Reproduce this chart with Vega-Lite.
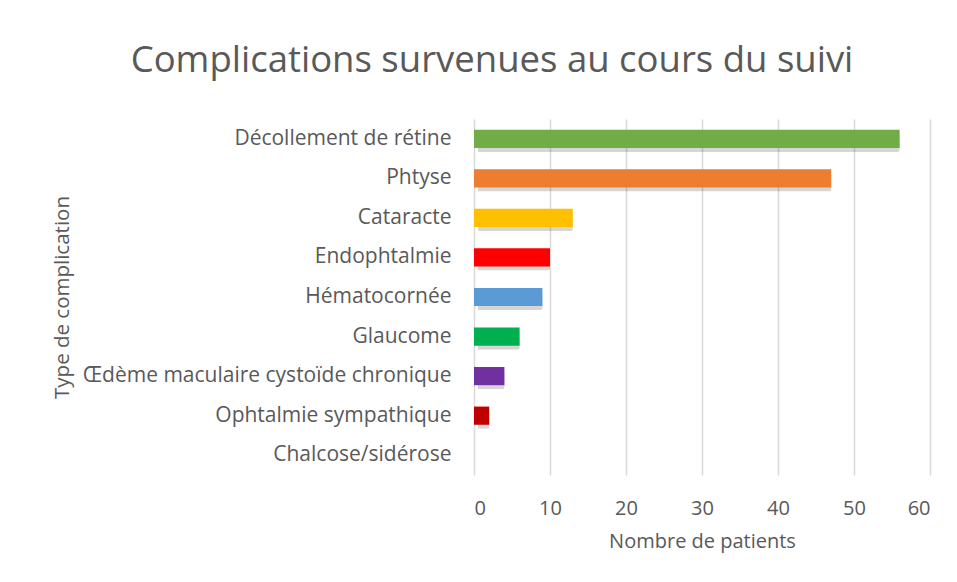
{
  "$schema": "https://vega.github.io/schema/vega-lite/v6.json",
  "width": 456,
  "height": 356,
  "autosize": "none",
  "padding": {"left": 474, "top": 119, "right": 27, "bottom": 107},
  "background": "white",
  "title": {
    "text": "Complications survenues au cours du suivi",
    "font": "Open Sans",
    "fontSize": 36.5,
    "fontWeight": "normal",
    "color": "#595959",
    "anchor": "middle",
    "dx": -210,
    "offset": 40
  },
  "data": {
    "values": [
      {"complication": "Décollement de rétine", "patients": 56, "color": "#70AD47"},
      {"complication": "Phtyse", "patients": 47, "color": "#ED7D31"},
      {"complication": "Cataracte", "patients": 13, "color": "#FFC000"},
      {"complication": "Endophtalmie", "patients": 10, "color": "#FF0000"},
      {"complication": "Hématocornée", "patients": 9, "color": "#5B9BD5"},
      {"complication": "Glaucome", "patients": 6, "color": "#00B050"},
      {"complication": "Œdème maculaire cystoïde chronique", "patients": 4, "color": "#7030A0"},
      {"complication": "Ophtalmie sympathique", "patients": 2, "color": "#C00000"},
      {"complication": "Chalcose/sidérose", "patients": 0, "color": "#A5A5A5"}
    ]
  },
  "encoding": {
    "y": {
      "field": "complication",
      "type": "nominal",
      "sort": null,
      "title": "Type de complication",
      "scale": {"paddingInner": 0.54, "paddingOuter": 0.27},
      "axis": {
        "domain": false,
        "ticks": false,
        "labelPadding": 23,
        "labelFont": "Open Sans",
        "labelFontSize": 21,
        "labelColor": "#595959",
        "labelLimit": 500,
        "titleFont": "Open Sans",
        "titleFontSize": 20.5,
        "titleFontWeight": "normal",
        "titleColor": "#595959",
        "titleX": -412,
        "titleY": 178,
        "titleAngle": -90,
        "titleAlign": "center",
        "titleBaseline": "middle"
      }
    },
    "x": {
      "field": "patients",
      "type": "quantitative",
      "title": "Nombre de patients",
      "scale": {"domain": [0, 60], "nice": false},
      "axis": {
        "values": [0, 10, 20, 30, 40, 50, 60],
        "domain": false,
        "ticks": false,
        "grid": true,
        "gridColor": "#D9D9D9",
        "gridWidth": 1.5,
        "labelPadding": 23,
        "labelFont": "Open Sans",
        "labelFontSize": 20,
        "labelColor": "#595959",
        "titleFont": "Open Sans",
        "titleFontSize": 20,
        "titleFontWeight": "normal",
        "titleColor": "#595959",
        "titlePadding": 13
      }
    }
  },
  "layer": [
    {
      "mark": {"type": "bar", "color": "#000000", "opacity": 0.16, "xOffset": 4, "yOffset": 4, "cornerRadius": 2},
      "encoding": {}
    },
    {
      "mark": {"type": "bar"},
      "encoding": {
        "color": {"field": "color", "type": "nominal", "scale": null}
      }
    }
  ],
  "config": {
    "view": {"stroke": null}
  }
}
